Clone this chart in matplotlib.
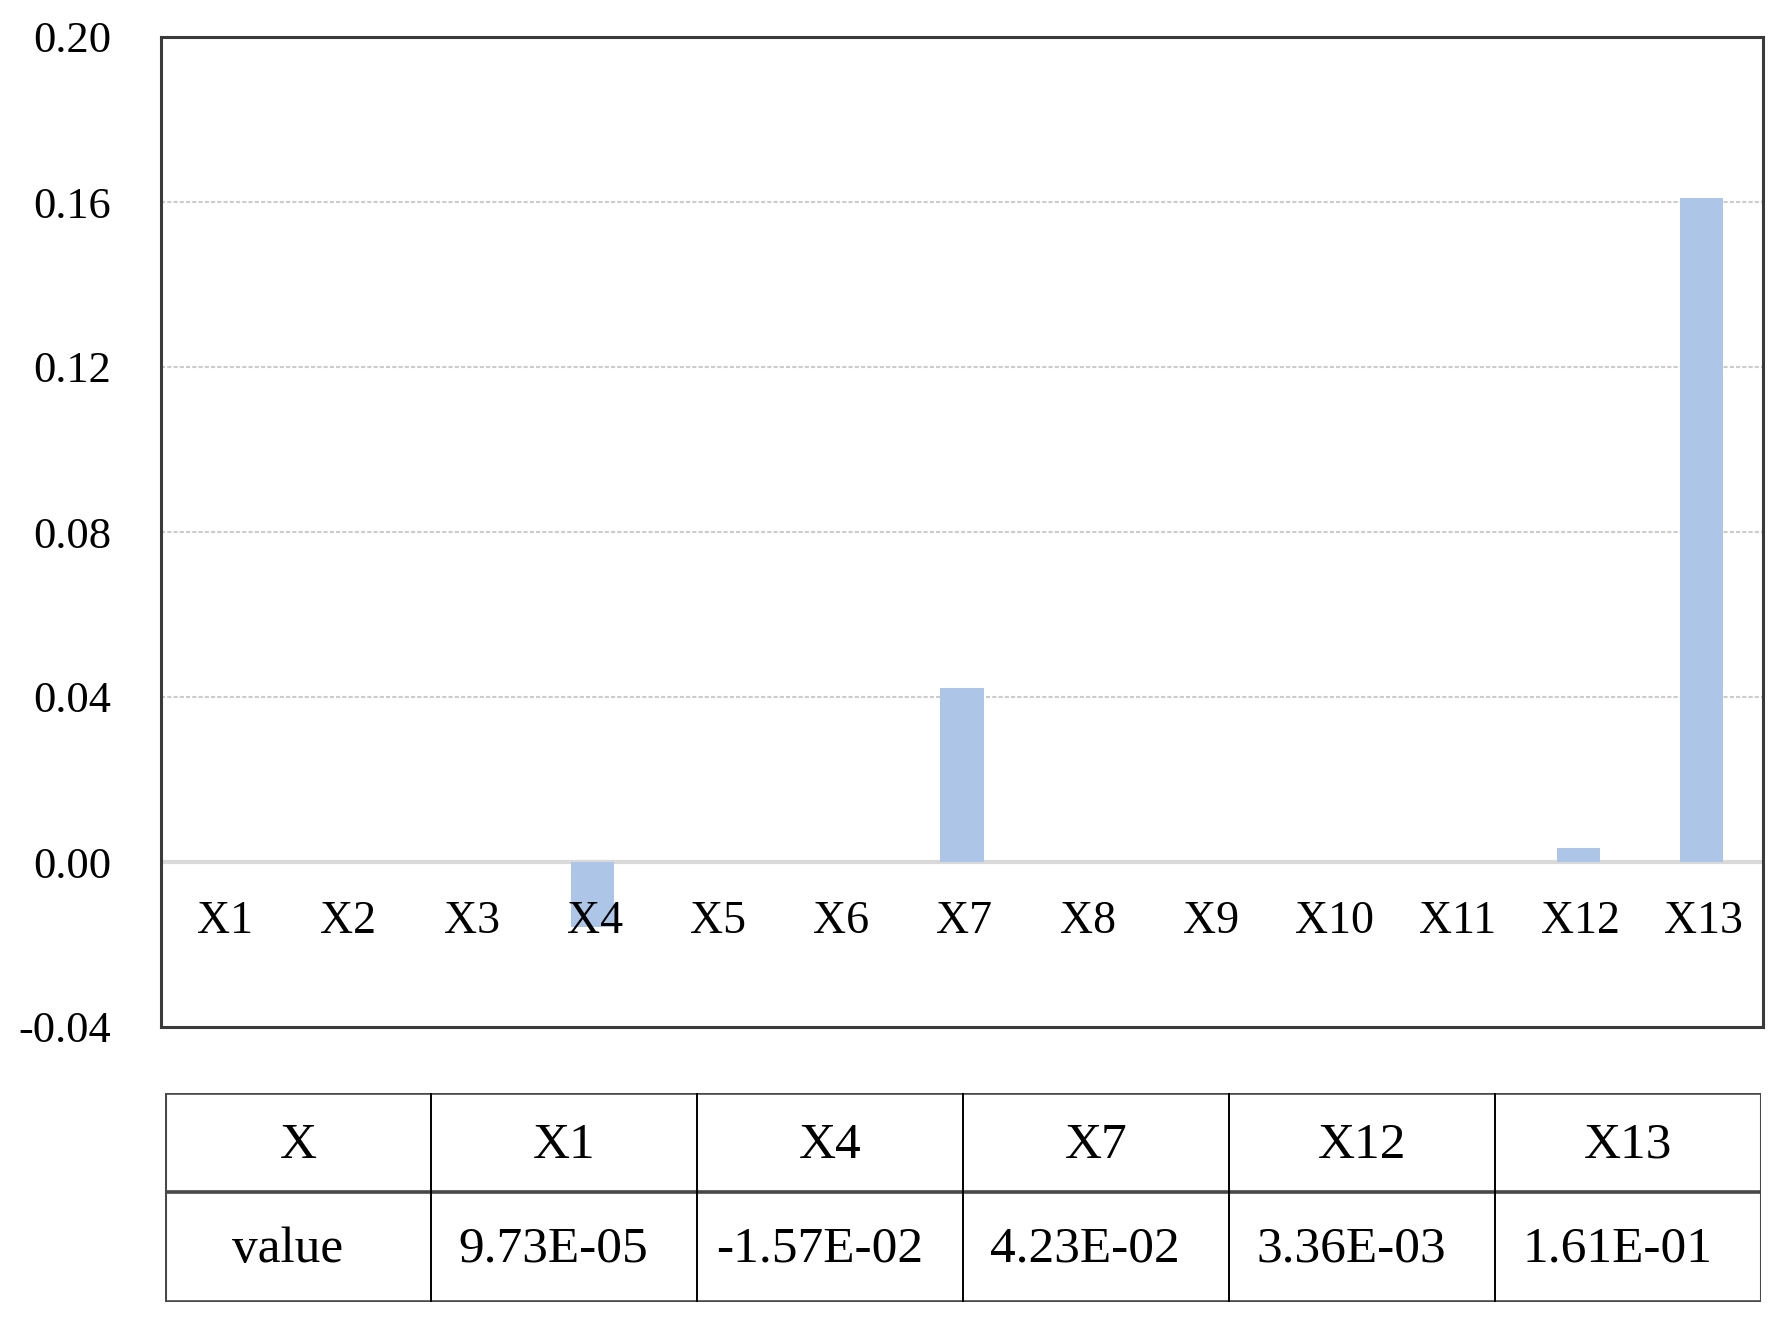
import matplotlib
matplotlib.use("Agg")
import matplotlib.pyplot as plt
import numpy as np

plt.rcParams['font.family'] = ['Liberation Serif', 'DejaVu Serif']

# data
names = ["X1", "X2", "X3", "X4", "X5", "X6", "X7", "X8", "X9", "X10", "X11", "X12", "X13"]
values = [9.73e-05, 0, 0, -1.57e-02, 0, 0, 4.23e-02, 0, 0, 0, 0, 3.36e-03, 1.61e-01]
yticks = [-0.04, 0.00, 0.04, 0.08, 0.12, 0.16, 0.20]
tab_head = ["X", "X1", "X4", "X7", "X12", "X13"]
tab_vals = ["value", "9.73E-05", "-1.57E-02", "4.23E-02", "3.36E-03", "1.61E-01"]

W, H = 1784, 1332
fig = plt.figure(figsize=(W / 100, H / 100), dpi=100)

# bar chart
ax = fig.add_axes([161 / W, 1 - 1027 / H, 1602 / W, 990 / H])
x = np.arange(len(names))
ax.bar(x, values, width=0.35, color='#adc6e8', zorder=3)
ax.set_xlim(-0.5, len(names) - 0.5)
ax.set_ylim(-0.04, 0.20)
ax.set_yticks(yticks)
ax.set_yticklabels(["%.2f" % v for v in yticks])
ax.set_xticks([])
ax.tick_params(axis='y', length=0, pad=36, labelsize=32)
for g in [0.04, 0.08, 0.12, 0.16]:
    ax.axhline(g, color='#cccccc', lw=1.5, ls=(0, (2, 1)), zorder=1)
ax.axhline(0, color='#d9d9d9', lw=3, zorder=2)
for s in ax.spines.values():
    s.set_color('#3a3a3a')
    s.set_linewidth(2.2)
for i, n in enumerate(names):
    ax.text(i + 0.02, -0.0172, n, ha='center', va='baseline', fontsize=33, zorder=4)

# table below
tx = fig.add_axes([165 / W, 1 - 1302 / H, 1596 / W, 209 / H])
tx.set_xlim(0, 6)
tx.set_ylim(0, 2)
tx.axis('off')
for yy in [0, 1.05, 2]:
    tx.axhline(yy, color='#484848', lw=2.6)
for xx in range(7):
    if xx in (0, 6):
        tx.axvline(xx, color='#484848', lw=2.2)
    else:
        tx.axvline(xx, color='black', lw=1.4)
for j in range(6):
    tx.text(j + 0.5, 1.50, tab_head[j], ha='center', va='center', fontsize=37)
    tx.text(j + 0.46, 0.50, tab_vals[j], ha='center', va='center', fontsize=37)

fig.savefig("out.png", dpi=100, facecolor='white')
